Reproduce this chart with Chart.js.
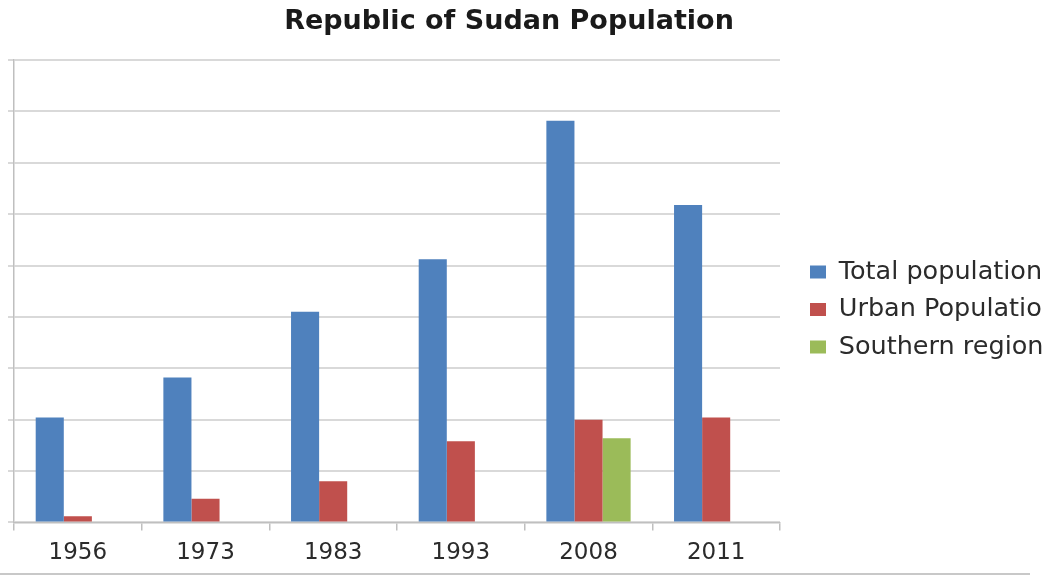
<!DOCTYPE html>
<html><head><meta charset="utf-8">
<script src="https://cdn.jsdelivr.net/npm/chart.js@4"></script>
<style>
html,body{margin:0;padding:0;background:#fff;overflow:hidden}
#wrap{position:relative;width:1042px;height:576px;overflow:hidden;background:#fff}
#box{position:absolute;left:-40px;top:0;width:1090px;height:576px}
#frame{position:absolute;left:0;top:573px;width:1030px;height:0;border-top:2px solid #c8c8c8}
</style></head><body>
<div id="wrap"><div id="box"><canvas id="c"></canvas></div><div id="frame"></div></div>
<script>
const categories = ['1956', '1973', '1983', '1993', '2008', '2011'];
const totalPopulation = [10.2, 14.1, 20.5, 25.6, 39.1, 30.9];
const urbanPopulation = [0.6, 2.3, 4.0, 7.9, 10.0, 10.2];
const southernRegion = [null, null, null, null, 8.2, null];
const seriesNames = ['Total population', 'Urban Population', 'Southern region'];
const titleText = 'Republic of Sudan Population';

const FONT = "'DejaVu Sans', 'Open Sans', sans-serif";

new Chart(document.getElementById('c'), {
  type: 'bar',
  data: {
    labels: categories,
    datasets: [
      { label: seriesNames[0], data: totalPopulation, backgroundColor: '#4F81BD' },
      { label: seriesNames[1], data: urbanPopulation, backgroundColor: '#C0504D' },
      { label: seriesNames[2], data: southernRegion, backgroundColor: '#9BBB59' }
    ]
  },
  options: {
    responsive: true,
    maintainAspectRatio: false,
    animation: false,
    devicePixelRatio: 1,
    categoryPercentage: 0.66,
    barPercentage: 1,
    layout: { padding: { left: 8, right: 0, top: 0, bottom: 0 } },
    plugins: {
      title: {
        display: true,
        text: titleText,
        color: '#1a1a1a',
        font: { family: FONT, size: 27, weight: 'bold' },
        padding: { top: 5.4, bottom: 22.2 }
      },
      legend: {
        display: true,
        position: 'right',
        maxWidth: 252,
        title: { display: true, text: ' ', font: { size: 10 }, padding: 15.5 },
        labels: {
          color: '#2b2b2b',
          font: { family: FONT, size: 25.5 },
          boxWidth: 16,
          boxHeight: 13,
          padding: 12
        }
      },
      tooltip: { enabled: false }
    },
    scales: {
      x: {
        grid: { drawOnChartArea: false, drawTicks: true, tickLength: 8, color: '#bfbfbf', lineWidth: 1.5 },
        border: { display: true, color: '#bfbfbf', width: 1.5 },
        ticks: { color: '#2b2b2b', font: { family: FONT, size: 23 }, padding: 9 }
      },
      y: {
        min: 0,
        max: 45,
        ticks: { display: false, stepSize: 5 },
        grid: { color: '#d9d9d9', lineWidth: 2, drawTicks: true, tickLength: 6 },
        border: { display: true, color: '#bfbfbf', width: 1.5 }
      },
      gapLeft: {
        position: 'left',
        display: true,
        weight: 10,
        ticks: { display: false },
        grid: { display: false, drawTicks: true, tickLength: 40 },
        border: { display: false }
      },
      gapRight: {
        position: 'right',
        display: true,
        ticks: { display: false },
        grid: { display: false, drawTicks: true, tickLength: 18 },
        border: { display: false }
      }
    }
  }
});
</script>
</body></html>
